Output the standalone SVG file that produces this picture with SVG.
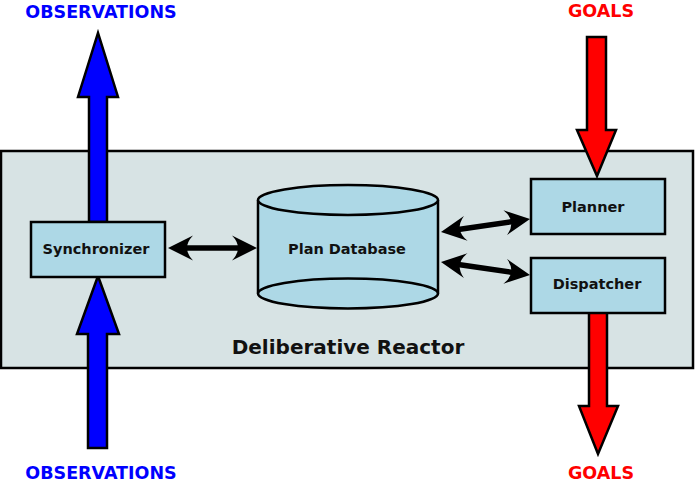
<svg xmlns="http://www.w3.org/2000/svg" width="695" height="493" viewBox="0 0 695 493">
<defs>
<style>
.lbl{font-family:"DejaVu Sans","Liberation Sans",sans-serif;font-weight:bold;text-anchor:middle}
.node{fill:#add8e6;stroke:#000;stroke-width:2.5}
.txt{font-size:14.5px;fill:#111}
.big{font-size:17.5px}
.blk{stroke:#000;stroke-width:2.5;stroke-linejoin:miter}
.conn{stroke:#000;stroke-width:5.5;fill:none}
</style>
<marker id="ah" markerUnits="userSpaceOnUse" markerWidth="40" markerHeight="30" viewBox="-26 -14 40 28" refX="-14" refY="0" orient="auto-start-reverse" overflow="visible">
<path d="M0,0 L-25,-12.5 Q-13,0 -25,12.5 Z" fill="#000"/>
</marker>
</defs>
<rect width="695" height="493" fill="#fff"/>
<g id="reactor">
<rect x="1" y="151" width="692" height="217" fill="#d7e3e4" stroke="#000" stroke-width="2.5"/>
<text class="lbl" x="348" y="354" font-size="20" fill="#111">Deliberative Reactor</text>
</g>
<g id="obs-out">
<polygon class="blk" fill="#0000ff" points="89,222 89,97 78,97 98,33 118,97 107,97 107,222"/>
<text class="lbl big" x="101" y="18" fill="#0000ff">OBSERVATIONS</text>
</g>
<g id="obs-in">
<polygon class="blk" fill="#0000ff" points="88,448 88,334 77,334 98,276 119,334 107,334 107,448"/>
<text class="lbl big" x="101" y="479" fill="#0000ff">OBSERVATIONS</text>
</g>
<g id="goals-in">
<polygon class="blk" fill="#ff0000" points="587,37 606,37 606,130 616,130 597,176 577,130 587,130"/>
<text class="lbl big" x="601" y="17" fill="#ff0000">GOALS</text>
</g>
<g id="goals-out">
<polygon class="blk" fill="#ff0000" points="589,312 607,312 607,406 618,406 598,454 579,406 589,406"/>
<text class="lbl big" x="601" y="479" fill="#ff0000">GOALS</text>
</g>
<g id="connectors">
<line class="conn" x1="182" y1="248" x2="243" y2="248" marker-start="url(#ah)" marker-end="url(#ah)"/>
<line class="conn" x1="454.85" y1="229.98" x2="516.15" y2="221.02" marker-start="url(#ah)" marker-end="url(#ah)"/>
<line class="conn" x1="454.85" y1="264.02" x2="516.15" y2="272.98" marker-start="url(#ah)" marker-end="url(#ah)"/>
</g>
<g id="synchronizer">
<rect class="node" x="31" y="222" width="134" height="55"/>
<text class="lbl txt" x="96" y="254">Synchronizer</text>
</g>
<g id="plan-database">
<path class="node" d="M258,200 L258,293.5 A90,15 0 0 0 438,293.5 L438,200"/>
<ellipse class="node" cx="348" cy="200" rx="90" ry="15"/>
<path d="M258,293.5 A90,15 0 0 1 438,293.5" fill="none" stroke="#000" stroke-width="2.5"/>
<text class="lbl txt" x="347" y="254">Plan Database</text>
</g>
<g id="planner">
<rect class="node" x="531" y="179" width="134" height="55"/>
<text class="lbl txt" x="593" y="212">Planner</text>
</g>
<g id="dispatcher">
<rect class="node" x="531" y="258" width="134" height="55"/>
<text class="lbl txt" x="597" y="289">Dispatcher</text>
</g>
</svg>
